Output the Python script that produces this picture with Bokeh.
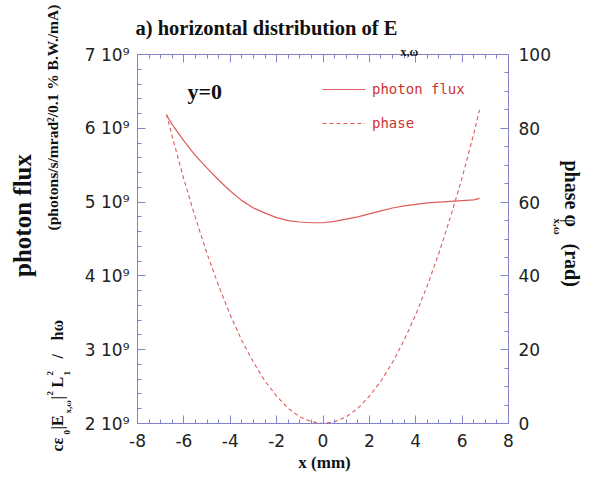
import math
from bokeh.plotting import figure
from bokeh.models import (Range1d, LinearAxis, FixedTicker, Label, Legend, LegendItem)
from bokeh.embed import file_html
from bokeh.resources import INLINE

# ---------------- data ----------------
x_mm = [-6.75, -6.5, -6.0, -5.5, -5.0, -4.5, -4.0, -3.5, -3.0, -2.5, -2.0, -1.5, -1.0, -0.5,
        0.0, 0.5, 1.0, 1.5, 2.0, 2.5, 3.0, 3.5, 4.0, 4.5, 5.0, 5.5, 6.0, 6.5, 6.75]
flux_e9 = [6.18, 6.05, 5.83, 5.63, 5.46, 5.30, 5.15, 5.02, 4.92, 4.85, 4.79, 4.75, 4.73, 4.72,
           4.72, 4.74, 4.77, 4.80, 4.84, 4.88, 4.92, 4.95, 4.97, 4.99, 5.00, 5.01, 5.02, 5.03, 5.05]
phase_rad = [83.8, 77.7, 66.2, 55.7, 46.0, 37.3, 29.4, 22.5, 16.6, 11.5, 7.4, 4.1, 1.8, 0.5,
             0.0, 0.5, 1.8, 4.1, 7.4, 11.5, 16.6, 22.6, 29.5, 37.4, 46.2, 56.0, 66.6, 78.5, 85.0]

x_lim = (-8, 8)
flux_lim = (2e9, 7e9)
phase_lim = (0, 100)
x_ticks = [-8, -6, -4, -2, 0, 2, 4, 6, 8]
x_tick_labels = ["-8", "-6", "-4", "-2", "0", "2", "4", "6", "8"]
flux_ticks = [2e9, 3e9, 4e9, 5e9, 6e9, 7e9]
flux_tick_labels = ["2 10\u2079", "3 10\u2079", "4 10\u2079", "5 10\u2079", "6 10\u2079", "7 10\u2079"]
phase_ticks = [0, 20, 40, 60, 80, 100]

flux = [v * 1e9 for v in flux_e9]

AXC = "#8383cc"
RED = "#de5b5b"
SERIF = "Liberation Serif"
SANS = "DejaVu Sans"
MONO = "DejaVu Sans Mono"

# plot box on the page (px); the frame covers the whole canvas so that texts are not clipped
FL, FR, FT, FB = 137, 508, 54, 423
W, H = 590, 478

def ext(lo, hi, px_lo, px_hi, before, after):
    k = (hi - lo) / (px_hi - px_lo)
    return Range1d(lo - before * k, hi + after * k)

p = figure(width=W, height=H, output_backend="svg", toolbar_location=None,
           x_range=ext(*x_lim, FL, FR, FL, W - FR),
           y_range=ext(*flux_lim, FT, FB, H - FB, FT),
           min_border=0, x_axis_location=None, y_axis_location=None)
p.extra_y_ranges = {"phase": ext(*phase_lim, FT, FB, H - FB, FT)}
p.grid.visible = False
p.outline_line_color = None
p.background_fill_color = "white"
p.border_fill_color = "white"

def style(ax):
    ax.axis_line_color = AXC
    ax.major_tick_line_color = AXC
    ax.minor_tick_line_color = AXC
    ax.major_tick_in = 8
    ax.major_tick_out = 0
    ax.minor_tick_in = 4
    ax.minor_tick_out = 0
    ax.major_label_text_font = SANS
    ax.major_label_text_font_size = "17px"
    ax.major_label_text_color = "#222222"

minor_x = [v / 2 for v in range(-16, 17)]
xb = LinearAxis(ticker=FixedTicker(ticks=x_ticks, minor_ticks=minor_x),
                fixed_location=flux_lim[0], bounds=x_lim)
style(xb)
xb.major_label_standoff = 10
xb.major_label_overrides = {t: s for t, s in zip(x_ticks, x_tick_labels)}
p.add_layout(xb, "below")

# top edge: ticks only (major ticks are empty ticks list, drawn as minor-style ticks)
xt = LinearAxis(ticker=FixedTicker(ticks=[], minor_ticks=minor_x),
                fixed_location=flux_lim[1], bounds=x_lim)
style(xt)
xt.minor_tick_in = 4
p.add_layout(xt, "above")
# major top ticks as a second label-less axis
xt2 = LinearAxis(ticker=FixedTicker(ticks=[], minor_ticks=x_ticks),
                 fixed_location=flux_lim[1], bounds=x_lim)
style(xt2)
xt2.minor_tick_in = 8
p.add_layout(xt2, "above")

yl = LinearAxis(ticker=FixedTicker(ticks=flux_ticks, minor_ticks=[2e9 + i * 0.2e9 for i in range(26)]),
                fixed_location=x_lim[0], bounds=flux_lim)
style(yl)
yl.major_label_standoff = 8
yl.major_label_overrides = {t: s for t, s in zip(flux_ticks, flux_tick_labels)}
p.add_layout(yl, "left")

yr = LinearAxis(y_range_name="phase", ticker=FixedTicker(ticks=phase_ticks, minor_ticks=list(range(0, 101, 5))),
                fixed_location=x_lim[1], bounds=phase_lim)
style(yr)
yr.major_label_standoff = 10
p.add_layout(yr, "right")

r1 = p.line(x_mm, flux, line_color=RED, line_width=1.2)
r2 = p.line(x_mm, phase_rad, y_range_name="phase", line_color=RED, line_width=1.1, line_dash="4 3")

leg = Legend(items=[LegendItem(label="photon flux", renderers=[r1]),
                    LegendItem(label="phase", renderers=[r2])],
             location=(322, H - 79 - 54), orientation="vertical")
leg.border_line_color = None
leg.background_fill_alpha = 0
leg.padding = 0
leg.margin = 0
leg.spacing = 14
leg.glyph_width = 43
leg.glyph_height = 20
leg.label_height = 20
leg.label_standoff = 7
leg.label_text_color = "#cc3333"
leg.label_text_font = MONO
leg.label_text_font_size = "14px"
p.add_layout(leg, "center")

def lab(text, x, y, size, angle=0.0, align="left", baseline="middle", bold=True, font=SERIF, color="#111111"):
    # x, y are page pixels; screen units are measured from the frame's lower-left corner
    p.add_layout(Label(x=x, y=H - y, x_units="screen", y_units="screen", text=text,
                       text_font=font, text_font_size=f"{size}px",
                       text_font_style="bold" if bold else "normal",
                       text_align=align, text_baseline=baseline, angle=angle,
                       text_color=color))

# title
lab("a) horizontal distribution of E", 135, 27, 20.5)
lab("x,\u03c9", 400, 51, 12)
# inner label
lab("y=0", 187, 91, 22)
# x axis label
lab("x (mm)", 324, 462, 17, align="center")

up = math.pi / 2
# left axis titles
lab("photon flux", 22, 215, 25, angle=up, align="center")
lab("(photons/s/mrad\u00b2/0.1 % B.W./mA)", 52, 230, 15.5, angle=up)
lab("c\u03b5", 57, 451, 16, angle=up)
lab("0", 66, 434, 9, angle=up)
lab("|E", 57, 429, 16, angle=up)
lab("x,\u03c9", 67, 413, 9, angle=up)
lab("|", 57, 399, 16, angle=up)
lab("2", 49, 395, 9, angle=up)
lab("L", 57, 387, 16, angle=up)
lab("1", 66, 375, 9, angle=up)
lab("2", 49, 375, 9, angle=up)
lab("/", 57, 358, 16, angle=up)
lab("h\u03c9", 57, 340, 16, angle=up)

# right axis title
dn = -math.pi / 2
lab("phase \u03c6", 571, 160, 20, angle=dn)
lab("x,\u03c9", 557, 218, 11, angle=dn)
lab("(rad)", 571, 243, 20, angle=dn)

open("out.html", "w").write(file_html(p, INLINE))
